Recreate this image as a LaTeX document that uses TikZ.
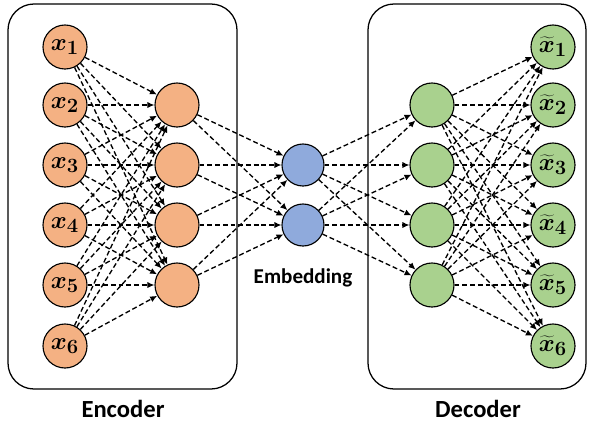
\documentclass[tikz,border=0pt]{standalone}
\usepackage{fontspec}
\setmainfont{Carlito}
\usepackage{bm}
\usetikzlibrary{arrows.meta}
\definecolor{encfill}{HTML}{F4B183}
\definecolor{embfill}{HTML}{8FAADC}
\definecolor{decfill}{HTML}{A9D18E}

\begin{document}
\begin{tikzpicture}[x=0.025cm, y=-0.025cm,
        neuron/.style={circle, draw=black, line width=0.8pt, minimum size=1.1cm, inner sep=0pt, font=\fontsize{19}{22}\selectfont},
        link/.style={line width=0.95pt, dash pattern=on 3.5pt off 2pt, -{Latex[length=5pt,width=4.5pt]}},
        panel/.style={rounded corners=0.65cm, line width=0.9pt},
        caption/.style={font=\fontsize{17.5}{20}\selectfont\bfseries}]

        \useasboundingbox (0,0) rectangle (591,423);

        \draw [panel] (8,4) rectangle (237,389);
        \draw [panel] (368,4) rectangle (586,389);

        % input and output layers
        \foreach \i/\y in {1/47,2/105,3/165,4/225,5/285,6/346} {
            \node [neuron, fill=encfill] (in\i) at (65,\y) {$\bm{x}_{\bm{\i}}$};
            \node [neuron, fill=decfill] (out\i) at (553,\y) {$\widetilde{\bm{x}}_{\bm{\i}}$};
        }
        % hidden layers
        \foreach \j/\y in {1/105,2/165,3/225,4/285} {
            \node [neuron, fill=encfill] (enc\j) at (177,\y) {};
            \node [neuron, fill=decfill] (dec\j) at (432,\y) {};
        }
        \node [neuron, fill=embfill, minimum size=1.05cm] (emb1) at (303,165) {};
        \node [neuron, fill=embfill, minimum size=1.05cm] (emb2) at (303,225) {};

        \node [caption] (enclab) at (123,409) {Encoder};
        \node [caption, font=\fontsize{15}{18}\selectfont\bfseries] (emblab) at (303,278) {Embedding};
        \node [caption] (declab) at (478,409) {Decoder};

        \begin{scope}[link]
        \foreach \i in {1,...,6} \foreach \j in {1,...,4} {
            \draw (in\i) -- (enc\j);
            \draw (dec\j) -- (out\i);
        }
        \foreach \j in {1,...,4} \foreach \k in {1,2} {
            \draw (enc\j) -- (emb\k);
            \draw (emb\k) -- (dec\j);
        }
        \end{scope}

\end{tikzpicture}
\end{document}
